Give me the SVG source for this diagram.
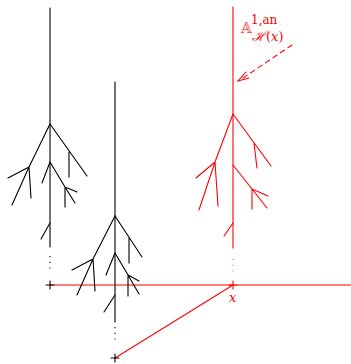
<svg xmlns="http://www.w3.org/2000/svg" width="351" height="364" viewBox="0 0 351 364">
<style>
.k{stroke:#000;stroke-width:1.1;fill:none;stroke-linecap:round}
.r{stroke:#f00;stroke-width:1.1;fill:none;stroke-linecap:round}
.dk{stroke:#000;stroke-width:1.1;stroke-dasharray:1.2 4.5;fill:none}
.dr{stroke:#f66;stroke-width:1.1;stroke-dasharray:1.2 4.5;fill:none}
.t{font-family:"DejaVu Serif","Liberation Serif",serif;fill:#f00}
</style>
<rect width="351" height="364" fill="#fff"/>
<g id="connectors">
<path class="r" d="M50 285H351"/>
<path class="r" d="M115 358L233 285"/>
<path class="r" d="M292 45L240 80" stroke-dasharray="5 4"/>
<path class="r" d="M246 72L238 81L249 78"/>
</g>
<g id="tree-left">
<path class="k" d="M50 8V247"/>
<path class="k" d="M50 124L29 167L12 205M29 167L8 178M29 167L31 198"/>
<path class="k" d="M50 124L87 176M69 152V177"/>
<path class="k" d="M50 162L42 183M50 162L65 187L75 203M65 187L77 192M65 187V207"/>
<path class="k" d="M50 223L41 239"/>
<path class="dk" d="M50 256V273"/>
<path class="k" d="M46 285H54M50 281V289"/>
</g>
<g id="tree-middle">
<path class="k" d="M115 82V322"/>
<path class="k" d="M115 216L93 259L77 295M93 259L72 270M93 259L95 291"/>
<path class="k" d="M115 216L142 257M129 238V263"/>
<path class="k" d="M115 253L106 275M115 253L128 275L139 294M128 275L139 281M128 275V296"/>
<path class="k" d="M115 295L104 312"/>
<path class="dk" d="M115 327V343"/>
<path class="k" d="M111 358H119M115 354V362"/>
</g>
<g id="tree-red">
<path class="r" d="M233 7V248"/>
<path class="r" d="M233 114L215 162L199 210M215 162L196 178M215 162L218 206"/>
<path class="r" d="M233 114L271 166M254 143L257 168"/>
<path class="r" d="M233 165L252 189L267 208M252 189L268 196M252 189V209"/>
<path class="r" d="M233 223L224 236"/>
<path class="dr" d="M233 259V274"/>
<path class="r" d="M229 285H237M233 281V289"/>
<text class="t" x="229" y="302" font-size="13" font-style="italic">x</text>
</g>
<g id="label">
<text x="241" y="33" font-size="14" font-family="DejaVu Serif, DejaVu Sans, sans-serif" fill="#f55">𝔸</text>
<text class="t" x="251" y="24" font-size="12">1,an</text>
<text class="t" x="252" y="41" font-size="13"><tspan font-style="italic">ℋ</tspan>(<tspan font-style="italic">x</tspan>)</text>
</g>
</svg>
